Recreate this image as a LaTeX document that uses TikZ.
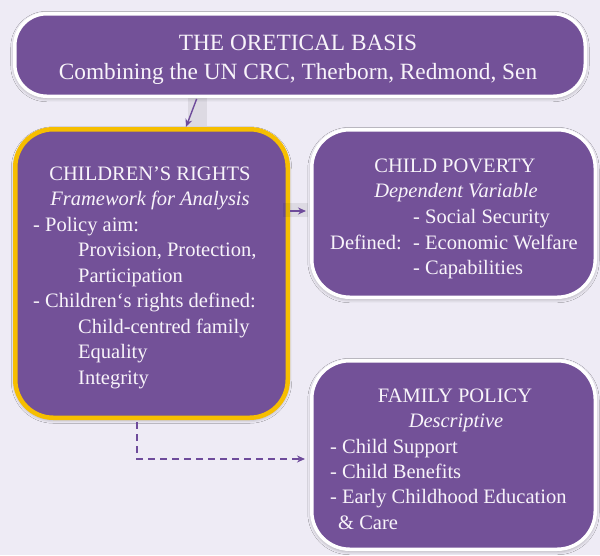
\documentclass[tikz,border=0pt]{standalone}
\usepackage{fontspec}
\setmainfont{Liberation Serif}
\newfontfamily\serf{Liberation Serif}
\usetikzlibrary{arrows.meta,shadows.blur,calc}
\definecolor{bg}{RGB}{238,235,245}
\definecolor{boxfill}{RGB}{115,81,152}
\definecolor{gold}{RGB}{246,190,0}
\definecolor{arrowc}{RGB}{110,75,155}
\definecolor{txtc}{RGB}{248,244,250}
\begin{document}
\begin{tikzpicture}[x=1pt,y=-1pt,
  box/.style={draw=white, line width=3.5pt, fill=boxfill, rounded corners=32pt,
    blur shadow={shadow xshift=0pt, shadow yshift=-1.5pt, shadow blur radius=4pt, shadow opacity=40},
    inner sep=0pt},
  goldbox/.style={box, draw=gold, line width=4.5pt, rounded corners=38pt},
  txt/.style={text=txtc, inner sep=0pt, font=\serf\fontsize{20.5}{25.6}\selectfont},
  ttl/.style={text=txtc, inner sep=0pt, font=\serf\fontsize{23.3}{29}\selectfont},
  link/.style={draw=arrowc, line width=1.4pt, -{Stealth[length=8pt,width=7pt]}},
  dlink/.style={link, dash pattern=on 7pt off 5pt},
  ashadow/.style={fill=black, opacity=0.07},
]
\fill[bg] (0,0) rectangle (600,555);
\useasboundingbox (0,0) rectangle (600,555);

% boxes
\node[box, minimum width=570.5pt, minimum height=82.5pt] (top) at (300,55) {};
\node[goldbox, minimum width=272.5pt, minimum height=288.5pt] (cr) at (151.5,273.5) {};
\node[box, rounded corners=38pt, minimum width=283.5pt, minimum height=167.5pt] (pov) at (453.5,213.5) {};
\node[box, rounded corners=38pt, minimum width=283.5pt, minimum height=188.5pt] (fam) at (453.5,455) {};

% arrow shadows
\fill[ashadow] (188,98) rectangle (207,126);
\fill[ashadow] (283,203) rectangle (308,217);

% top texts
\node[ttl, anchor=base] (t1) at (298,50) {THE ORETICAL BASIS};
\node[ttl, anchor=base] (t2) at (298,79) {Combining the UN CRC, Therborn, Redmond, Sen};

% children's rights
\node[txt, anchor=base] (c1) at (150,180) {CHILDREN’S RIGHTS};
\node[txt, anchor=base] (c2) at (150,205) {\itshape Framework for Analysis};
\node[txt, anchor=base west] (c3) at (33,231) {- Policy aim:};
\node[txt, anchor=base west] (c4) at (78,256) {Provision, Protection,};
\node[txt, anchor=base west] (c5) at (78,282) {Participation};
\node[txt, anchor=base west] (c6) at (33,307) {- Children‘s rights defined:};
\node[txt, anchor=base west] (c7) at (78,333) {Child-centred family};
\node[txt, anchor=base west] (c8) at (78,358) {Equality};
\node[txt, anchor=base west] (c9) at (78,384) {Integrity};

% child poverty
\node[txt, anchor=base] (p1) at (455,172) {CHILD POVERTY};
\node[txt, anchor=base] (p2) at (456,197) {\itshape Dependent Variable};
\node[txt, anchor=base west] (p3) at (413,223) {- Social Security};
\node[txt, anchor=base west] (p4) at (330,249) {Defined:};
\node[txt, anchor=base west] (p5) at (413,249) {- Economic Welfare};
\node[txt, anchor=base west] (p6) at (413,274) {- Capabilities};

% family policy
\node[txt, anchor=base] (f1) at (455,402) {FAMILY POLICY};
\node[txt, anchor=base] (f2) at (456,427) {\itshape Descriptive};
\node[txt, anchor=base west] (f3) at (330,453) {- Child Support};
\node[txt, anchor=base west] (f4) at (330,478) {- Child Benefits};
\node[txt, anchor=base west] (f5) at (330,503) {- Early Childhood Education};
\node[txt, anchor=base west] (f6) at (338,529) {\& Care};

% connectors
\draw[link, shorten <=1pt] ([xshift=-103pt]top.south) -- ([xshift=34.5pt]cr.north);
\draw[link, shorten >=4pt] ([yshift=62.5pt]cr.east) -- ([yshift=2.5pt]pov.west);
\draw[dlink, shorten <=2pt, shorten >=5pt] ([xshift=-14.5pt]cr.south) |- ([yshift=-4pt]fam.west);
\end{tikzpicture}
\end{document}
